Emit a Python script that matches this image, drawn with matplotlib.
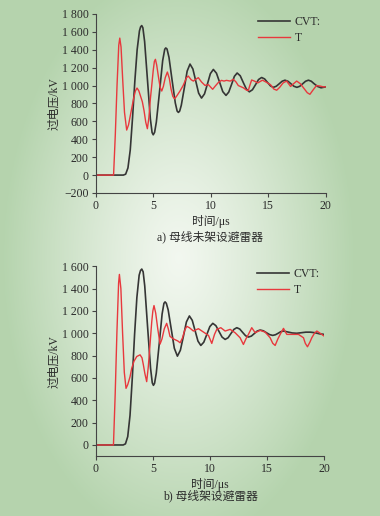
import numpy as np
import matplotlib
matplotlib.use("Agg")
import matplotlib.pyplot as plt
from matplotlib.ticker import FuncFormatter

# ---------------------------------------------------------------------------
# data (time in us, voltage in kV)
# ---------------------------------------------------------------------------
# a) bus without arrester -- CVT1
cvt_a_t = [0, 2.4, 2.6, 2.8, 3.0, 3.2, 3.4, 3.6, 3.8, 3.9,
           4.0, 4.1, 4.25, 4.5, 4.75, 4.9, 5.0, 5.12, 5.27, 5.55,
           5.82, 6.0, 6.09, 6.2, 6.37, 6.64, 6.92, 7.08, 7.19, 7.3,
           7.44, 7.7, 7.95, 8.2, 8.45, 8.7, 8.95, 9.2,
           9.46, 9.72, 9.97, 10.23, 10.5, 10.78, 11.05, 11.33, 11.57, 11.82,
           12.06, 12.3, 12.57, 12.83, 13.1, 13.36, 13.63, 13.9, 14.16, 14.43,
           14.69, 14.94, 15.2, 15.45, 15.7, 15.96, 16.21, 16.46, 16.72, 16.98,
           17.24, 17.5, 17.75, 18.0, 18.25, 18.5, 18.75, 19.0, 19.3, 19.6,
           20.0]
cvt_a_v = [0, 0, 10, 80, 280, 640, 1050, 1400, 1610, 1655,
           1670, 1645, 1492, 1060, 628, 475, 450, 478, 592, 935,
           1278, 1405, 1420, 1408, 1315, 1060, 805, 715, 700, 715,
           779, 970, 1161, 1240, 1185, 1050, 915, 860,
           907, 1020, 1133, 1180, 1138, 1035, 932, 890, 927, 1015,
           1103, 1140, 1109, 1035, 961, 930, 953, 1010, 1067, 1090,
           1074, 1035, 996, 980, 992, 1020, 1048, 1060, 1048, 1020,
           992, 980, 992, 1020, 1048, 1060, 1048, 1020, 990, 975,
           985]

# a) bus without arrester -- T
t_a_t = [0, 1.55, 1.7, 1.85, 2.0, 2.09, 2.2, 2.35, 2.5, 2.69,
         2.85, 3.0, 3.15, 3.3, 3.45, 3.59, 3.75, 3.9, 4.05, 4.2,
         4.35, 4.49, 4.62, 4.75, 4.87, 5.0, 5.1, 5.19, 5.3, 5.45,
         5.6, 5.74, 5.88, 6.05, 6.23, 6.4, 6.55, 6.7, 6.85, 7.0,
         7.33, 7.6, 7.9, 8.05, 8.3, 8.49, 8.7, 8.92, 9.2, 9.5,
         9.8, 10.17, 10.4, 10.65, 10.94, 11.15, 11.37, 11.7, 11.97, 12.2,
         12.4, 12.84, 13.1, 13.27, 13.4, 13.56, 13.8, 14.1, 14.5, 14.8,
         15.2, 15.5, 15.74, 16.0, 16.3, 16.6, 16.95, 17.2, 17.48, 17.8,
         18.1, 18.4, 18.63, 18.9, 19.2, 19.5, 19.8, 20.0]
t_a_v = [0, 0, 450, 1000, 1450, 1530, 1430, 1050, 700, 503,
         560, 660, 760, 860, 940, 972, 940, 880, 820, 720,
         590, 518, 640, 850, 1000, 1170, 1270, 1293, 1230, 1100,
         980, 939, 990, 1090, 1151, 1080, 960, 880, 852, 875,
         939, 1000, 1088, 1106, 1065, 1050, 1070, 1088, 1040, 1002,
         1010, 958, 995, 1032, 1058, 1050, 1058, 1050, 1070, 1040,
         1000, 975, 950, 944, 1000, 1062, 1050, 1030, 1060, 1040,
         1010, 960, 948, 980, 1030, 1050, 990, 1020, 1050, 1020,
         970, 920, 902, 950, 1000, 995, 985, 985]

# b) bus with arrester -- CVT1
cvt_b_t = [0, 2.4, 2.6, 2.8, 3.0, 3.2, 3.4, 3.6, 3.8, 3.92,
           4.03, 4.15, 4.29, 4.54, 4.8, 4.95, 5.05, 5.15, 5.3, 5.56,
           5.81, 5.97, 6.07, 6.18, 6.34, 6.61, 6.88, 7.15, 7.41, 7.68,
           7.94, 8.2, 8.45, 8.7, 8.95, 9.2,
           9.46, 9.73, 9.99, 10.25, 10.52, 10.79, 11.06, 11.33, 11.59, 11.84,
           12.1, 12.35, 12.61, 12.86, 13.12, 13.37, 13.63, 13.89, 14.14, 14.4,
           14.68, 14.95, 15.23, 15.5, 15.74, 15.97, 16.2, 16.44, 16.8, 17.2,
           17.6, 18.0, 18.4, 18.8, 19.2, 19.6, 20.0]
cvt_b_v = [0, 0, 10, 75, 265, 600, 990, 1320, 1520, 1562,
           1575, 1550, 1423, 1055, 686, 556, 534, 552, 643, 908,
           1172, 1268, 1281, 1268, 1210, 1038, 866, 795, 848, 975,
           1102, 1155, 1116, 1023, 930, 891,
           920, 990, 1060, 1089, 1068, 1017, 966, 945, 960, 998,
           1035, 1050, 1038, 1008, 978, 966, 975, 998, 1020, 1029,
           1022, 1005, 988, 981, 987, 1000, 1014, 1020, 1012, 1003,
           1000, 1005, 1010, 1010, 1005, 995, 990]

# b) bus with arrester -- T
t_b_t = [0, 1.55, 1.7, 1.85, 2.0, 2.07, 2.2, 2.35, 2.5, 2.65,
         2.8, 3.0, 3.15, 3.35, 3.59, 3.88, 4.05, 4.17, 4.3, 4.46,
         4.6, 4.75, 4.9, 5.0, 5.1, 5.25, 5.42, 5.63, 5.8, 6.0,
         6.21, 6.35, 6.5, 6.8, 7.0, 7.2, 7.39, 7.6, 7.8, 7.97,
         8.2, 8.55, 8.99, 9.43, 9.87, 10.16, 10.4, 10.6, 10.95, 11.33,
         11.77, 12.2, 12.64, 12.93, 13.15, 13.37, 13.66, 13.96, 14.39, 14.83,
         15.27, 15.5, 15.71, 15.95, 16.15, 16.44, 16.73, 17.3, 17.75, 18.19,
         18.35, 18.54, 18.75, 18.92, 19.15, 19.36, 19.65, 20.0]
t_b_v = [0, 0, 450, 1000, 1450, 1527, 1400, 1000, 650, 507,
         540, 610, 687, 750, 792, 807, 780, 717, 640, 567,
         700, 897, 1100, 1200, 1248, 1180, 1047, 903, 950, 1040,
         1089, 1040, 972, 950, 940, 930, 915, 960, 1030, 1062,
         1050, 1020, 1041, 1011, 981, 909, 990, 1035, 1050, 1020,
         1035, 1005, 960, 900, 950, 990, 1050, 1005, 1026, 1011,
         960, 910, 891, 950, 990, 1044, 990, 990, 990, 960,
         910, 879, 920, 960, 1000, 1020, 1000, 975]

x_ticks = [0, 5, 10, 15, 20]
y_ticks_a = [-200, 0, 200, 400, 600, 800, 1000, 1200, 1400, 1600, 1800]
y_ticks_b = [0, 200, 400, 600, 800, 1000, 1200, 1400, 1600]

legend_labels = ["CVT:", "T"]
captions = ["a) 母线未架设避雷器", "b) 母线架设避雷器"]
x_label = "时间/μs"
y_label = "过电压/kV"

# ---------------------------------------------------------------------------
BLACK = "#353535"
RED = "#e8383d"
TXT = "#2b2b2b"
FS = 8.5
FAM = ["Liberation Serif", "Noto Sans CJK SC", "DejaVu Sans"]

plt.rcParams["font.family"] = FAM
plt.rcParams["font.size"] = FS


def _fmt(v, pos=None):
    v = int(round(v))
    s = f"{abs(v):,}".replace(",", " ")
    return ("\u2212" + s) if v < 0 else s


fig = plt.figure(figsize=(3.8, 5.16), dpi=100)

# greenish radial background like the journal figure box
bg = fig.add_axes([0, 0, 1, 1], zorder=-10)
yy, xx = np.mgrid[0:1:300j, 0:1:220j]
r = np.sqrt(((xx - 0.47) / 0.75) ** 2 + ((yy - 0.50) / 0.9) ** 2)
w = np.clip(r / 0.62, 0, 1) ** 1.2
c0 = np.array([0.95, 0.97, 0.94])
c1 = np.array([0.71, 0.83, 0.68])
img = c0[None, None, :] * (1 - w[..., None]) + c1[None, None, :] * w[..., None]
bg.imshow(img, aspect="auto", extent=[0, 1, 0, 1], origin="upper")
bg.axis("off")


def _panel(rect, cvt_t, cvt_v, tt, tv, ylim, yticks, caption, cap_y):
    ax = fig.add_axes(rect)
    ax.set_facecolor("none")
    ax.plot(cvt_t, cvt_v, color=BLACK, linewidth=1.2, label=legend_labels[0])
    ax.plot(tt, tv, color=RED, linewidth=1.0, label=legend_labels[1])
    ax.set_xlim(0, 20)
    ax.set_ylim(*ylim)
    ax.set_xticks(x_ticks)
    ax.set_yticks(yticks)
    ax.yaxis.set_major_formatter(FuncFormatter(_fmt))
    for s in ("top", "right"):
        ax.spines[s].set_visible(False)
    for s in ("left", "bottom"):
        ax.spines[s].set_color("#444444")
        ax.spines[s].set_linewidth(0.8)
    ax.tick_params(direction="out", length=3, width=0.8, color="#444444",
                   labelcolor=TXT, labelsize=FS, pad=2)
    ax.set_xlabel(x_label, fontsize=FS, color=TXT, labelpad=2)
    ax.set_ylabel(y_label, fontsize=FS, color=TXT, labelpad=1)
    ax.legend(loc="upper left", bbox_to_anchor=(0.705, 0.99), frameon=False,
              handlelength=2.7, handletextpad=0.4, labelspacing=0.35,
              borderpad=0, borderaxespad=0, fontsize=FS, labelcolor=TXT)
    fig.text(0.553, cap_y, caption, ha="center", va="center",
             fontsize=FS, color=TXT)
    return ax


_panel([0.252, 0.626, 0.605, 0.347], cvt_a_t, cvt_a_v, t_a_t, t_a_v,
       (-200, 1800), y_ticks_a, captions[0], 1 - 237 / 516)
_panel([0.252, 0.116, 0.601, 0.368], cvt_b_t, cvt_b_v, t_b_t, t_b_v,
       (-100, 1600), y_ticks_b, captions[1], 1 - 496 / 516)

fig.savefig("out.png", dpi=100)
